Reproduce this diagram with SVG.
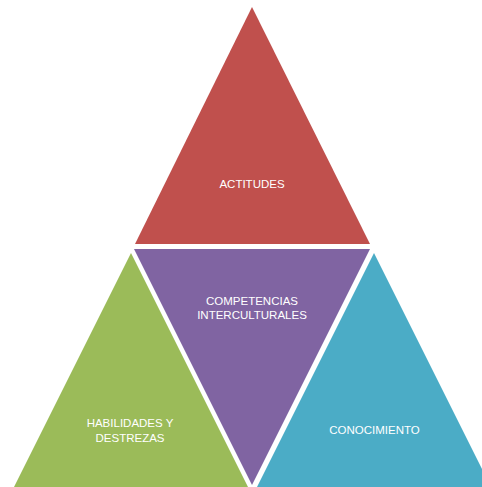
<svg xmlns="http://www.w3.org/2000/svg" width="482" height="487" viewBox="0 0 482 487">
<style>
text{font-family:"Liberation Sans","Open Sans",sans-serif;font-size:11.5px;fill:#ffffff;text-anchor:middle}
</style>
<rect width="482" height="487" fill="#ffffff"/>
<g id="actitudes">
<polygon points="252,7 370,244 135,244" fill="#C0504D"/>
<text x="252" y="188">ACTITUDES</text>
</g>
<g id="competencias">
<polygon points="134,249 370,249 252,485" fill="#8064A2"/>
<text x="252" y="305">COMPETENCIAS</text>
<text x="252" y="319">INTERCULTURALES</text>
</g>
<g id="habilidades">
<polygon points="131,253 248,487 14,487" fill="#9BBB59"/>
<text x="130" y="427">HABILIDADES Y</text>
<text x="130" y="442">DESTREZAS</text>
</g>
<g id="conocimiento">
<polygon points="374,253 491,487 257,487" fill="#4BACC6"/>
<text x="374.5" y="434">CONOCIMIENTO</text>
</g>
<g id="connectors"></g>
</svg>
